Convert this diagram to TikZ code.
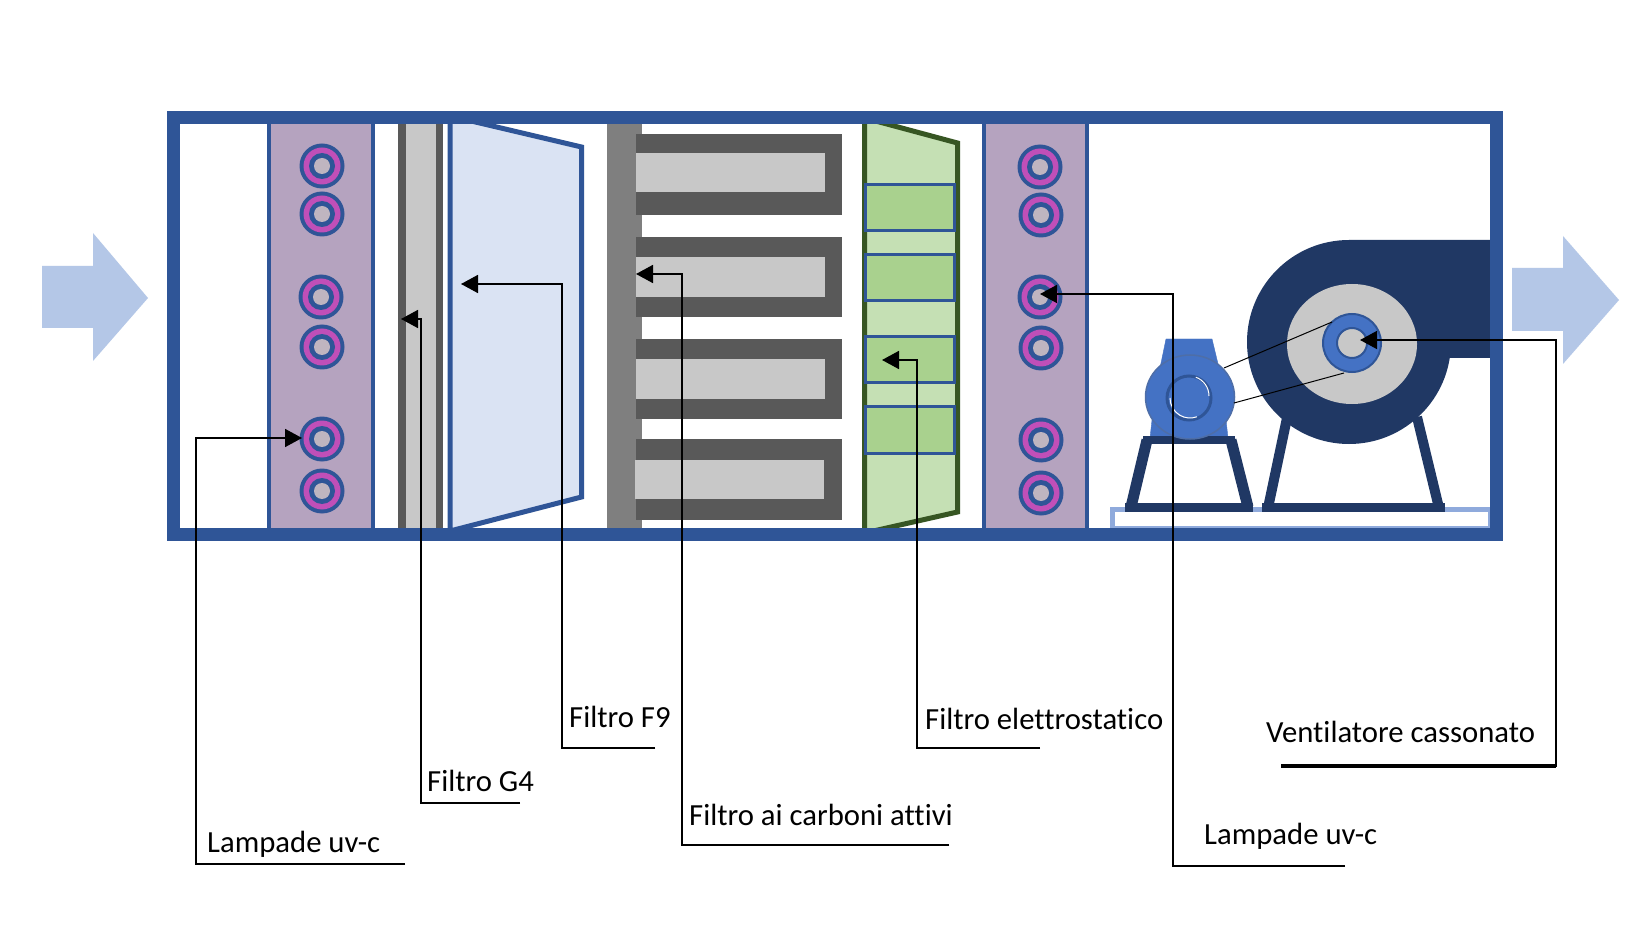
\documentclass[tikz,border=0pt]{standalone}
\usepackage{fontspec}
\setmainfont[Ligatures={NoCommon}]{Carlito}
\usetikzlibrary{arrows.meta}
\definecolor{frameblue}{HTML}{2F5597}
\definecolor{panelpurple}{HTML}{B5A3BF}
\definecolor{lampmag}{HTML}{C04FB8}
\definecolor{lampgrey}{HTML}{BFB5C0}
\definecolor{darkgrey}{HTML}{595959}
\definecolor{lightgrey}{HTML}{C8C8C8}
\definecolor{midgrey}{HTML}{7F7F7F}
\definecolor{paleblue}{HTML}{DAE3F3}
\definecolor{palegreen}{HTML}{C5E0B4}
\definecolor{midgreen}{HTML}{A9D18E}
\definecolor{darkgreen}{HTML}{375623}
\definecolor{navy}{HTML}{203864}
\definecolor{motorblue}{HTML}{4472C4}
\definecolor{flowblue}{HTML}{B4C7E7}
\definecolor{baseblue}{HTML}{8FAADC}
\tikzset{
  panel/.style={fill=panelpurple,draw=frameblue,line width=3.5pt},
  lead/.style={draw=black,line width=1.6pt,-{Triangle[length=17pt,width=18pt]}},
  shelf/.style={draw=black,line width=2.6pt},
  lbl/.style={font=\fontsize{30.7}{36}\selectfont,anchor=base west,inner sep=0pt},
  legline/.style={draw=navy,line width=10pt},
  lampmark/.pic={
    \fill[frameblue] (0,0) circle (22.5);
    \fill[lampmag] (0,0) circle (18.5);
    \fill[frameblue] (0,0) circle (13);
    \fill[lampgrey] (0,0) circle (8);
  }
}
\begin{document}
\begin{tikzpicture}[x=1pt,y=-1pt]
\useasboundingbox (0,0) rectangle (1626,925);
\fill[white] (0,0) rectangle (1626,925);
% flow arrows
\fill[flowblue] (42,266) -- (93,266) -- (93,233) -- (148,298) -- (93,361) -- (93,328) -- (42,328) -- cycle;
\fill[flowblue] (1512,268) -- (1563,268) -- (1563,236) -- (1619,300) -- (1563,364) -- (1563,331) -- (1512,331) -- cycle;
% UV panels
\draw[panel] (269,120) rectangle (373,532);
\draw[panel] (984,120) rectangle (1087,532);
% lamps
\path (322,166) pic {lampmark} (322,214) pic {lampmark} (321,297) pic {lampmark}
      (322,347) pic {lampmark} (322,439) pic {lampmark} (322,491) pic {lampmark}
      (1040,167) pic {lampmark} (1041,215) pic {lampmark} (1040,297) pic {lampmark}
      (1041,348) pic {lampmark} (1041,440) pic {lampmark} (1041,493) pic {lampmark};
% G4
\fill[darkgrey] (398,120) rectangle (443,532);
\fill[lightgrey] (406,120) rectangle (436,532);
% F9
\filldraw[fill=paleblue,draw=frameblue,line width=5pt,line join=miter] (450,116) -- (581.5,147) -- (581.5,497) -- (450,531) -- cycle;
% carbon
\fill[midgrey] (607,120) rectangle (642,532);
\fill[darkgrey] (636,134) rectangle (842,215);
\fill[lightgrey] (636,153) rectangle (825,192);
\fill[darkgrey] (636,237) rectangle (842,317);
\fill[lightgrey] (636,257) rectangle (825,297);
\fill[darkgrey] (636,339) rectangle (842,419);
\fill[lightgrey] (636,359) rectangle (825,399);
\fill[darkgrey] (636,439) rectangle (842,520);
\fill[lightgrey] (635,460) rectangle (824,499);
% electrostatic
\filldraw[fill=palegreen,draw=darkgreen,line width=5pt] (864.5,118) -- (957.5,143) -- (957.5,512) -- (864.5,533) -- cycle;
\tikzset{cell/.style={fill=midgreen,draw=frameblue,line width=3pt}}
\draw[cell] (865,184.5) rectangle (954,230.5);
\draw[cell] (865,254.5) rectangle (954,301);
\draw[cell] (865,336.5) rectangle (954,382.5);
\draw[cell] (865,406.5) rectangle (954,453);
% base plate
\filldraw[fill=white,draw=baseblue,line width=5pt] (1112,509) rectangle (1490,528);
% fan
\draw[legline] (1287,418) -- (1268,508);
\draw[legline] (1417,417) -- (1439,508);
\fill[navy] (1262,503) rectangle (1445,512);
\fill[navy] (1349,240) -- (1493,240) -- (1493,358) -- (1442,358) -- (1349,342) -- cycle;
\fill[navy] (1349,342) circle (102);
\fill[lightgrey] (1352,344) ellipse (65 and 60);
\filldraw[fill=motorblue,draw=frameblue,line width=2pt] (1352,343) circle (29);
\filldraw[fill=lightgrey,draw=frameblue,line width=2pt] (1352,343) circle (15);
% motor
\filldraw[fill=motorblue,draw=motorblue] (1166,339) -- (1212,339) -- (1219,368) -- (1160,368) -- cycle;
\filldraw[fill=motorblue,draw=motorblue] (1152,420) -- (1226,420) -- (1228,438) -- (1150,438) -- cycle;
\draw[legline,line width=11pt] (1147,440) -- (1131,507);
\draw[legline,line width=11pt] (1231,440) -- (1248,507);
\fill[navy] (1143,436) rectangle (1235,444);
\fill[navy] (1125,503) rectangle (1253,512);
\filldraw[fill=motorblue,draw=frameblue!85,line width=1.5pt] (1190,397) ellipse (44.5 and 42);
\filldraw[fill=motorblue,draw=frameblue,line width=3pt] (1189,398) circle (22);
\draw[white,line width=1pt] (1170,398) arc (180:70:20);
\draw[white,line width=1pt] (1209,396) arc (0:-70:20);
% belt
\draw[black,line width=1pt] (1224,368) -- (1332,322);
\draw[black,line width=1pt] (1234,403) -- (1344,373);
% frame
\draw[frameblue,line width=12.5pt] (173.5,117.5) rectangle (1496.5,534.5);
% labels
\node[lbl] (lampA) at (207,852) {Lampade uv-c};
\node[lbl] (filG)  at (427,791) {Filtro G4};
\node[lbl] (filF)  at (569,727) {Filtro F9};
\node[lbl] (filC)  at (689,825) {Filtro ai carboni attivi};
\node[lbl] (filE)  at (925,729) {Filtro elettrostatico};
\node[lbl] (lampB) at (1204,844) {Lampade uv-c};
\node[lbl] (vent)  at (1266,742) {Ventilatore cassonato};
% connector ends
\coordinate (endA) at (405,864);  \coordinate (tipA) at (302,438);
\coordinate (endG) at (520,803);  \coordinate (tipG) at (401,319);
\coordinate (endF) at (655,748);  \coordinate (tipF) at (461,284);
\coordinate (endC) at (949,845);  \coordinate (tipC) at (636,274);
\coordinate (endE) at (1040,748); \coordinate (tipE) at (882,360);
\coordinate (endB) at (1345,866); \coordinate (tipB) at (1040,294);
\coordinate (endV) at (1281,766); \coordinate (tipV) at (1360,340);
\draw[lead] (endA) -- (196,864) |- (tipA);
\draw[lead] (endG) -- (421,803) |- (tipG);
\draw[lead] (endF) -- (562,748) |- (tipF);
\draw[lead] (endC) -- (682,845) |- (tipC);
\draw[lead] (endE) -- (917,748) |- (tipE);
\draw[lead] (endB) -- (1173,866) |- (tipB);
\draw[lead] (endV) -- (1556,766) |- (tipV);
\draw[shelf] (endF) -- (562,748);
\draw[shelf] (endC) -- (682,845);
\draw[shelf,line width=3.2pt] (endV) -- (1556,766);
\end{tikzpicture}
\end{document}
